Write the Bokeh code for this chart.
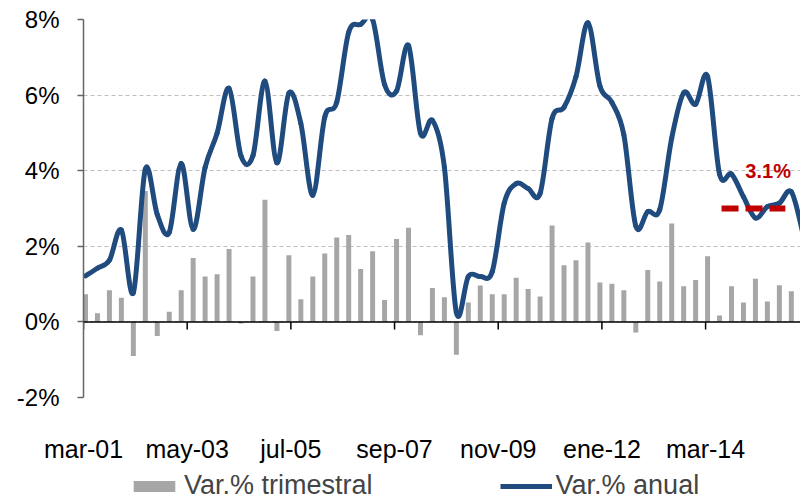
from bokeh.plotting import figure
from bokeh.layouts import column
from bokeh.models import (Range1d, FixedTicker, PrintfTickFormatter, Span, Label,
                          Legend, LegendItem)
from bokeh.embed import file_html
from bokeh.resources import INLINE

# ---------------- data (quarterly, starting mar-01) ----------------
trimestral = [0.73, 0.23, 0.84, 0.64, -0.90, 3.46, -0.37, 0.27, 0.84, 1.69,
              1.20, 1.26, 1.93, -0.04, 1.20, 3.23, -0.24, 1.76, 0.60, 1.20,
              1.81, 2.23, 2.30, 1.40, 1.87, 0.58, 2.19, 2.49, -0.35, 0.90,
              0.65, -0.87, 0.51, 0.96, 0.73, 0.73, 1.17, 0.87, 0.67, 2.55,
              1.50, 1.63, 2.10, 1.04, 1.01, 0.84, -0.28, 1.37, 1.07, 2.60,
              0.94, 1.11, 1.74, 0.17, 0.94, 0.51, 1.14, 0.54, 0.97, 0.81,
              0.17]
anual = [1.22, 1.42, 1.63, 2.43, 0.77, 4.04, 2.84, 2.37, 4.19, 2.45,
         4.09, 4.99, 6.18, 4.39, 4.40, 6.37, 4.21, 6.05, 5.25, 3.35,
         5.42, 5.81, 7.66, 7.87, 8.00, 6.28, 6.11, 7.31, 4.99, 5.33,
         4.09, 0.25, 1.20, 1.20, 1.33, 3.14, 3.66, 3.53, 3.40, 5.38,
         5.68, 6.49, 7.91, 6.24, 5.81, 4.95, 2.54, 2.92, 2.97, 4.86,
         6.06, 5.76, 6.49, 3.91, 3.91, 3.31, 2.75, 3.05, 3.14, 3.44,
         2.30]
months_per_quarter = 3
tick_months = [0, 26, 52, 78, 104, 130, 156]
tick_labels = ["mar-01", "may-03", "jul-05", "sep-07", "nov-09", "ene-12", "mar-14"]
y_ticks = [-2, 0, 2, 4, 6, 8]
target_value = 3.0
target_text = "3.1%"
target_months = [160, 176]
series_names = ["Var.% trimestral", "Var.% anual"]

BLUE = "#1F4B7E"
GRAY = "#A6A6A6"
RED = "#C00000"
FONT = "Liberation Sans"

# month positions (points sit in the middle of their month slot)
xs = [months_per_quarter * i + 0.5 for i in range(len(trimestral))]

p = figure(width=800, height=465, output_backend="svg", toolbar_location=None,
           x_range=Range1d(0, 179.8), y_range=Range1d(-2, 8),
           min_border_left=83, min_border_right=0, min_border_top=19,
           min_border_bottom=60)
p.outline_line_color = None
p.background_fill_color = "white"

# axes
p.xaxis.ticker = FixedTicker(ticks=tick_months)
p.xaxis.major_label_overrides = {m: l for m, l in zip(tick_months, tick_labels)}
p.xaxis.axis_line_color = None
p.xaxis.major_tick_line_color = None
p.xaxis.minor_tick_line_color = None
p.xaxis.major_label_standoff = 31
p.xaxis.major_label_text_font = FONT
p.xaxis.major_label_text_font_size = "25px"
p.xaxis.major_label_text_color = "black"

p.yaxis.ticker = FixedTicker(ticks=y_ticks)
p.yaxis.formatter = PrintfTickFormatter(format="%d%%")
p.yaxis.axis_line_color = "#666666"
p.yaxis.axis_line_width = 1.5
p.yaxis.major_tick_line_color = "#666666"
p.yaxis.major_tick_line_width = 1.5
p.yaxis.major_tick_out = 6
p.yaxis.major_tick_in = 0
p.yaxis.minor_tick_line_color = None
p.yaxis.major_label_standoff = 18
p.yaxis.major_label_text_font = FONT
p.yaxis.major_label_text_font_size = "24px"
p.yaxis.major_label_text_color = "black"

p.xgrid.grid_line_color = None
p.ygrid.grid_line_color = "#BFBFBF"
p.ygrid.grid_line_dash = "4 3"
p.ygrid.grid_line_width = 1

# bars
p.vbar(x=xs, top=trimestral, bottom=0, width=1.25, fill_color=GRAY, line_color=None)

# zero line with category tick marks
p.add_layout(Span(location=0, dimension="width", line_color="black", line_width=1.5))
p.segment(x0=tick_months, y0=[0] * len(tick_months), x1=tick_months,
          y1=[-0.2] * len(tick_months), line_color="black", line_width=1.5)

# smoothed annual line (Excel-style cubic Bezier through the points)
n = len(anual)
bx0, by0, bx1, by1, cx0, cy0, cx1, cy1 = ([] for _ in range(8))
for i in range(n - 1):
    a = max(i - 1, 0)
    b = min(i + 2, n - 1)
    bx0.append(xs[i]); by0.append(anual[i])
    bx1.append(xs[i + 1]); by1.append(anual[i + 1])
    cx0.append(xs[i] + (xs[i + 1] - xs[a]) / 6.0)
    cy0.append(anual[i] + (anual[i + 1] - anual[a]) / 6.0)
    cx1.append(xs[i + 1] - (xs[b] - xs[i]) / 6.0)
    cy1.append(anual[i + 1] - (anual[b] - anual[i]) / 6.0)
p.bezier(x0=bx0, y0=by0, x1=bx1, y1=by1, cx0=cx0, cy0=cy0, cx1=cx1, cy1=cy1,
         line_color=BLUE, line_width=5, line_cap="round")

# target dashed line and label
p.line(x=target_months, y=[target_value] * 2, line_color=RED, line_width=6,
       line_dash="17 7")
p.add_layout(Label(x=target_months[1] + 1.4, y=4.0, text=target_text,
                   text_align="right", text_baseline="alphabetic",
                   text_font=FONT, text_font_style="bold", text_font_size="20px",
                   text_color=RED))

# ---------------- legend strip (frame aligns with the chart's frame) ----------------
lg = figure(width=800, height=36, output_backend="svg", toolbar_location=None,
            x_range=Range1d(0, 1), y_range=Range1d(0, 1),
            min_border=0, outline_line_color=None)
lg.axis.visible = False
lg.grid.visible = False
# legend proxies, placed outside the visible range
r_bar = lg.vbar(x=[5], top=[1], width=0.1, fill_color=GRAY, line_color=None)
r_line = lg.line(x=[5, 6], y=[0.5, 0.5], line_color=BLUE, line_width=5)
legend = Legend(items=[LegendItem(label=series_names[0], renderers=[r_bar]),
                       LegendItem(label=series_names[1], renderers=[r_line])],
                orientation="horizontal", location=(45, 0),
                label_text_font=FONT, label_text_font_size="27px",
                glyph_width=52, glyph_height=14, spacing=127, padding=0, margin=0,
                label_standoff=4, border_line_color=None, background_fill_alpha=0)
lg.add_layout(legend, "center")

layout = column(p, lg, spacing=0)
open("out.html", "w").write(file_html(layout, INLINE))
